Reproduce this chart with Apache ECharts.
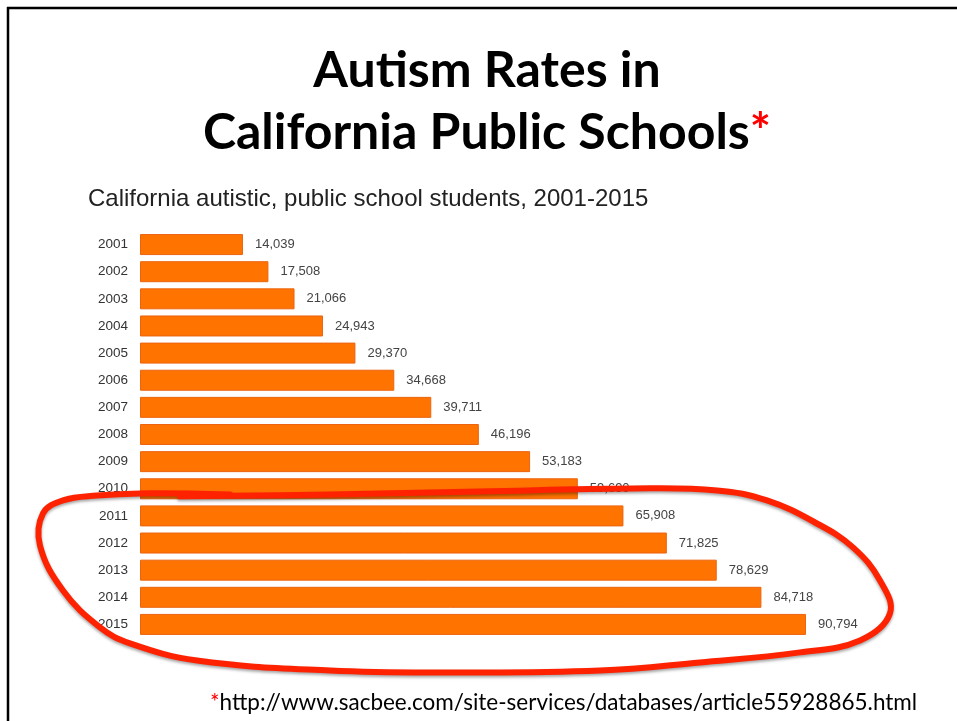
<!DOCTYPE html>
<html><head><meta charset="utf-8">
<script src="https://cdn.jsdelivr.net/npm/echarts@6/dist/echarts.min.js"></script>
<style>html,body{margin:0;padding:0;background:#fff}#c{width:957px;height:721px}</style>
</head><body><div id="c"></div>
<script>
const years = ['2001','2002','2003','2004','2005','2006','2007','2008','2009','2010','2011','2012','2013','2014','2015'];
const students = [14039,17508,21066,24943,29370,34668,39711,46196,53183,59690,65908,71825,78629,84718,90794];
const titleLine1 = 'Autism Rates in';
const titleLine2 = 'California Public Schools';
const chartSubtitle = 'California autistic, public school students, 2001-2015';
const sourceUrl = 'http://www.sacbee.com/site-services/databases/article55928865.html';
// hand-drawn ring, in [students value, category index] units
const ringValues = [5453,25903,46353,67212,78664,85481,92297,97205,100886,102249,98160,89980,76346,62713,42263,25903,7771,-1363,-5453,-10498,-13633,-13224,-10498,-5862,0,12270];
const ringRows = [9.28,9.21,9.10,8.99,9.06,9.43,10.28,11.16,12.38,13.59,14.59,15.03,15.40,15.70,15.77,15.70,15.33,14.70,14.11,12.75,11.09,9.91,9.43,9.25,9.17,9.21];

const chart = echarts.init(document.getElementById('c'), null, {renderer: 'canvas'});
const sans = 'Liberation Sans, Arial, Helvetica, sans-serif';
chart.setOption({
  animation: false,
  backgroundColor: '#fff',
  grid: {left: 140, top: 231, width: 733.5, height: 407, containLabel: false},
  xAxis: {type: 'value', min: 0, max: 100000, show: false},
  yAxis: {
    type: 'category', data: years, inverse: true,
    axisLine: {show: false}, axisTick: {show: false}, splitLine: {show: false},
    axisLabel: {margin: 12, fontFamily: sans, fontSize: 13.5, color: '#333'}
  },
  series: [{
    type: 'bar', data: students, barWidth: 21,
    itemStyle: {color: '#FF7300', borderColor: '#EC6410', borderWidth: 1},
    label: {
      show: true, position: 'right', distance: 12,
      fontFamily: sans, fontSize: 13, color: '#444',
      formatter: p => p.value.toLocaleString('en-US')
    }
  }]
});

const yA = chart.convertToPixel({yAxisIndex: 0}, years[0]);
const yB = chart.convertToPixel({yAxisIndex: 0}, years[years.length - 1]);
const step = (yB - yA) / (years.length - 1);
const ringPts = ringValues.map((v, i) => [chart.convertToPixel({xAxisIndex: 0}, v), yA + ringRows[i] * step]);

chart.setOption({
  graphic: [
    {type: 'line', id: 'frameTop', shape: {x1: 7, y1: 8, x2: 957, y2: 8}, style: {stroke: '#000', lineWidth: 2.5}},
    {type: 'line', id: 'frameLeft', shape: {x1: 8, y1: 7, x2: 8, y2: 721}, style: {stroke: '#000', lineWidth: 2.5}},
    {type: 'text', id: 't1', x: 487, y: 71, style: {text: titleLine1, align: 'center', verticalAlign: 'middle', font: 'bold 50px Lato, sans-serif', fill: '#000'}},
    {type: 'text', id: 't2', x: 487, y: 133, style: {text: titleLine2 + '{r|*}', align: 'center', verticalAlign: 'middle', font: 'bold 50px Lato, sans-serif', fill: '#000', rich: {r: {fill: '#FF0000', font: 'bold 50px Lato, sans-serif'}}}},
    {type: 'text', id: 'sub', x: 88, y: 199, style: {text: chartSubtitle, align: 'left', verticalAlign: 'middle', font: '24px Liberation Sans, Arial, sans-serif', fill: '#222'}},
    {type: 'text', id: 'src', x: 210, y: 703, style: {text: '{r|*}' + sourceUrl, align: 'left', verticalAlign: 'middle', font: '22.5px Lato, sans-serif', fill: '#000', rich: {r: {fill: '#FF0000', font: '22.5px Lato, sans-serif'}}}},
    {type: 'polyline', id: 'ring', z: 100, shape: {points: ringPts, smooth: 0.4},
      style: {stroke: '#FF2200', lineWidth: 6, fill: null, lineCap: 'round', lineJoin: 'round',
        shadowColor: 'rgba(0,0,0,0.35)', shadowBlur: 3, shadowOffsetY: 2}}
  ]
});
</script></body></html>
